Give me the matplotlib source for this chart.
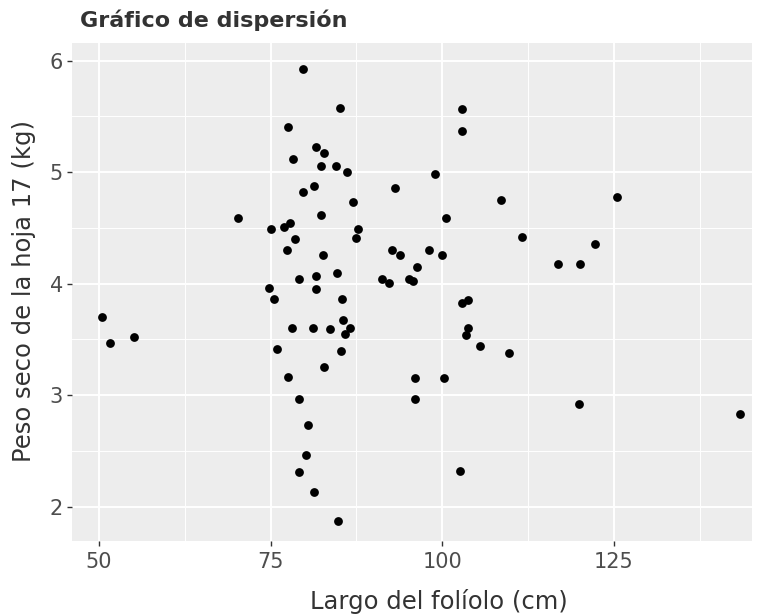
import matplotlib.pyplot as plt
from matplotlib.ticker import MultipleLocator

# largo del folíolo (cm) y peso seco de la hoja 17 (kg)
largo = [79.7, 85.1, 77.6, 81.6, 82.8, 78.3, 82.4, 84.5, 86.1, 81.4,
         79.8, 87.0, 70.3, 82.3, 75.0, 77.0, 77.8, 87.8, 87.5, 78.6,
         77.4, 82.6, 84.7, 79.2, 81.6, 81.6, 74.8, 75.5, 85.4, 85.6,
         78.1, 81.2, 83.7, 86.6, 85.9, 76.0, 85.2, 82.8, 77.6, 79.2,
         80.4, 80.2, 79.2, 81.4, 84.8, 102.9, 102.9, 98.9, 93.1, 108.6,
         100.6, 111.6, 92.7, 93.9, 98.1, 100.0, 116.8, 96.3, 91.2, 92.2,
         95.1, 95.8, 102.9, 103.8, 103.8, 103.4, 105.5, 109.7, 96.0, 100.3,
         96.0, 102.6, 125.5, 122.3, 120.0, 50.5, 51.6, 55.1, 119.9, 143.3]
peso = [5.93, 5.58, 5.41, 5.23, 5.17, 5.12, 5.06, 5.06, 5.00, 4.88,
        4.82, 4.73, 4.59, 4.62, 4.49, 4.51, 4.54, 4.49, 4.41, 4.40,
        4.30, 4.26, 4.10, 4.04, 4.07, 3.95, 3.96, 3.86, 3.86, 3.67,
        3.60, 3.60, 3.59, 3.60, 3.55, 3.41, 3.40, 3.25, 3.16, 2.97,
        2.73, 2.46, 2.31, 2.13, 1.87, 5.57, 5.37, 4.98, 4.86, 4.75,
        4.59, 4.42, 4.30, 4.26, 4.30, 4.26, 4.18, 4.15, 4.04, 4.01,
        4.04, 4.02, 3.83, 3.85, 3.60, 3.54, 3.44, 3.38, 3.15, 3.15,
        2.97, 2.32, 4.78, 4.36, 4.18, 3.70, 3.47, 3.52, 2.92, 2.83]

plt.rcParams['font.family'] = 'DejaVu Sans'

fig = plt.figure(figsize=(7.59, 6.15), dpi=100)
ax = fig.add_axes([72 / 759, 74 / 615, 680 / 759, 498 / 615])

# estilo tipo theme_gray
ax.set_facecolor('#EDEDED')
for s in ax.spines.values():
    s.set_visible(False)
ax.xaxis.set_major_locator(MultipleLocator(25))
ax.xaxis.set_minor_locator(MultipleLocator(12.5))
ax.yaxis.set_major_locator(MultipleLocator(1))
ax.yaxis.set_minor_locator(MultipleLocator(0.5))
ax.grid(which='major', color='white', linewidth=1.4)
ax.grid(which='minor', color='white', linewidth=0.7)
ax.set_axisbelow(True)
ax.tick_params(which='major', length=3.5, width=1.0, color='#333333',
               labelsize=15, labelcolor='#4D4D4D', pad=4.5)
ax.tick_params(axis='y', which='major', pad=3)
ax.tick_params(which='minor', length=0)

ax.scatter(largo, peso, s=40, color='black', linewidths=0, zorder=3)

ax.set_xlim(46.1, 145.1)
ax.set_ylim(1.692, 6.159)

ax.set_xlabel('Largo del folíolo (cm)', fontsize=17.5, color='#333333')
ax.set_ylabel('Peso seco de la hoja 17 (kg)', fontsize=17.5, color='#333333')
ax.xaxis.set_label_coords(0.54, -0.097)
ax.yaxis.set_label_coords(-0.053, 0.502)

fig.text(80 / 759, 1 - 20 / 615, 'Gráfico de dispersión', fontsize=16,
         fontweight='bold', color='#333333', ha='left', va='center')

fig.savefig('out.png', dpi=100)
